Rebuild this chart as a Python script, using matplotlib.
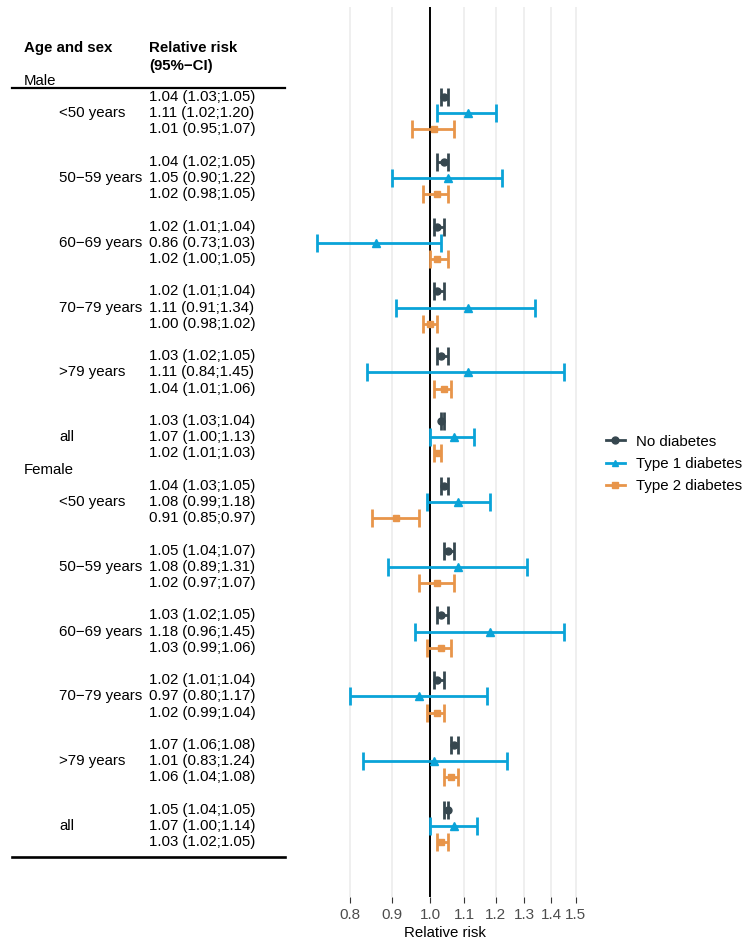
import matplotlib
matplotlib.use("Agg")
import matplotlib.pyplot as plt
import matplotlib.transforms as mtransforms
from matplotlib.lines import Line2D
from matplotlib.ticker import FixedLocator, NullLocator, FixedFormatter

plt.rcParams['font.family'] = ['Liberation Sans', 'DejaVu Sans']

groups = ["<50 years", "50\u221259 years", "60\u221269 years", "70\u221279 years", ">79 years", "all"]
series = ["No diabetes", "Type 1 diabetes", "Type 2 diabetes"]
colors = ["#36474F", "#0AA3D8", "#E8954A"]
markers = ["o", "^", "s"]

# estimate, lower, upper per group; order: no diabetes, type 1, type 2
male = [
    [(1.04, 1.03, 1.05), (1.11, 1.02, 1.20), (1.01, 0.95, 1.07)],
    [(1.04, 1.02, 1.05), (1.05, 0.90, 1.22), (1.02, 0.98, 1.05)],
    [(1.02, 1.01, 1.04), (0.86, 0.73, 1.03), (1.02, 1.00, 1.05)],
    [(1.02, 1.01, 1.04), (1.11, 0.91, 1.34), (1.00, 0.98, 1.02)],
    [(1.03, 1.02, 1.05), (1.11, 0.84, 1.45), (1.04, 1.01, 1.06)],
    [(1.03, 1.03, 1.04), (1.07, 1.00, 1.13), (1.02, 1.01, 1.03)],
]
female = [
    [(1.04, 1.03, 1.05), (1.08, 0.99, 1.18), (0.91, 0.85, 0.97)],
    [(1.05, 1.04, 1.07), (1.08, 0.89, 1.31), (1.02, 0.97, 1.07)],
    [(1.03, 1.02, 1.05), (1.18, 0.96, 1.45), (1.03, 0.99, 1.06)],
    [(1.02, 1.01, 1.04), (0.97, 0.80, 1.17), (1.02, 0.99, 1.04)],
    [(1.07, 1.06, 1.08), (1.01, 0.83, 1.24), (1.06, 1.04, 1.08)],
    [(1.05, 1.04, 1.05), (1.07, 1.00, 1.14), (1.03, 1.02, 1.05)],
]
xticks = [0.8, 0.9, 1.0, 1.1, 1.2, 1.3, 1.4, 1.5]

W, H = 750, 947
fig = plt.figure(figsize=(W / 100, H / 100), dpi=100)
ax = fig.add_axes([307 / W, 1 - 897 / H, (583 - 307) / W, (897 - 7) / H])
ax.set_xscale("log")
ax.set_xlim(0.71, 1.53)
ax.set_ylim(50.38, -4.556)
for s in ax.spines.values():
    s.set_visible(False)
ax.xaxis.set_major_locator(FixedLocator(xticks))
ax.xaxis.set_minor_locator(NullLocator())
ax.xaxis.set_major_formatter(FixedFormatter([f"{t:.1f}" for t in xticks]))
ax.set_yticks([])
ax.tick_params(axis="x", length=4, color="#333333", labelcolor="#4d4d4d", labelsize=11, pad=4)
for t in xticks:
    ax.axvline(t, color="#EBEBEB", lw=1.1, zorder=0)
ax.axvline(1.0, color="black", lw=1.4, zorder=1)
ax.set_xlabel("Relative risk", fontsize=10.8, labelpad=3)

tr = mtransforms.blended_transform_factory(fig.transFigure, ax.transData)
fs = 10.8

fig.text(24 / W, 1 - 48 / H, "Age and sex", fontsize=fs, fontweight="bold", va="center")
fig.text(149 / W, 1 - 48 / H, "Relative risk", fontsize=fs, fontweight="bold", va="center")
fig.text(149 / W, 1 - 66 / H, "(95%\u2212CI)", fontsize=fs, fontweight="bold", va="center")

def draw_sex(label, label_row, data, base_row):
    ax.text(24 / W, label_row, label, transform=tr, fontsize=fs, va="center", clip_on=False)
    for g, name in enumerate(groups):
        r0 = base_row + 4 * g
        ax.text(59 / W, r0 + 1, name, transform=tr, fontsize=fs, va="center", clip_on=False)
        for k in range(3):
            est, lo, hi = data[g][k]
            ax.text(149 / W, r0 + k, f"{est:.2f} ({lo:.2f};{hi:.2f})", transform=tr,
                    fontsize=fs, va="center", clip_on=False)
            ax.errorbar(est, r0 + k, xerr=[[est - lo], [hi - est]], fmt=markers[k],
                        color=colors[k], ms=5 if k != 1 else 5.5, lw=2.0, capsize=6.5, capthick=2.0,
                        zorder=3)

draw_sex("Male", 0, male, 1)
draw_sex("Female", 24, female, 25)

fig.add_artist(Line2D([12 / W, 285 / W], [1 - 88 / H, 1 - 88 / H], color="black", lw=1.6))
fig.add_artist(Line2D([12 / W, 285 / W], [1 - 857 / H, 1 - 857 / H], color="black", lw=1.9))

handles = [Line2D([], [], color=colors[k], marker=markers[k], ms=5, lw=2.0) for k in range(3)]
fig.legend(handles, series, loc="center left", bbox_to_anchor=(592 / W, 1 - 464 / H),
           frameon=False, fontsize=fs, handlelength=1.3, handletextpad=0.7, labelspacing=0.55)

fig.savefig("out.png", dpi=100)
